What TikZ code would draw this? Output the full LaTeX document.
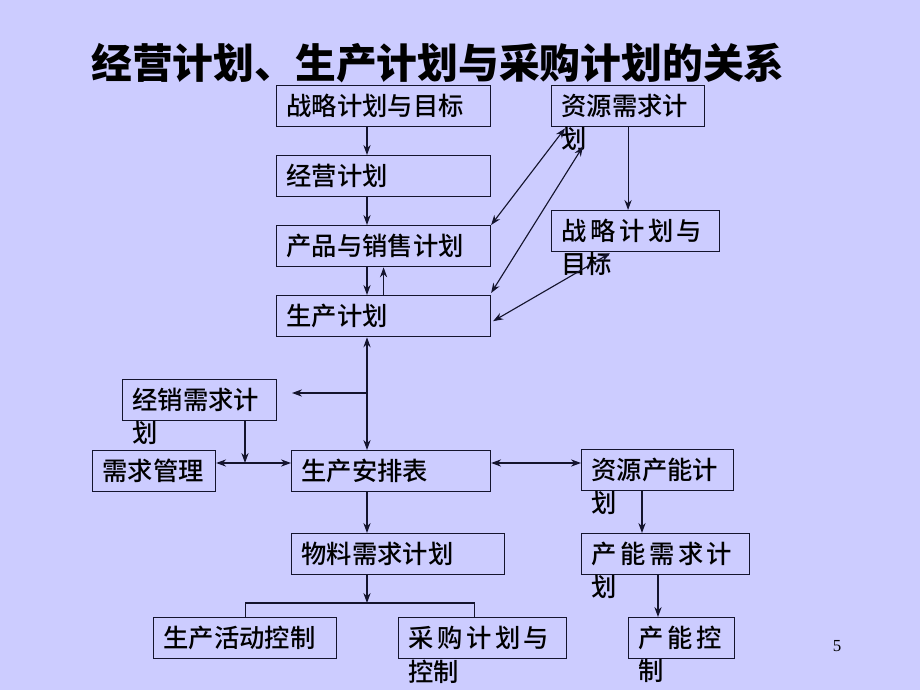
\documentclass[tikz,border=0pt]{standalone}
\usepackage{fontspec}
\newfontfamily\cjk{Noto Sans CJK SC Medium}
\newfontfamily\cjktitle{Noto Sans CJK SC Black}
\newfontfamily\serif{Liberation Serif}
\newcommand\gap{\hspace{2.5pt}}
\usetikzlibrary{positioning,calc,arrows.meta}
\definecolor{slidebg}{RGB}{204,204,255}
\definecolor{ink}{RGB}{20,20,45}

\begin{document}
\begin{tikzpicture}[
    x=0.025cm, y=-0.025cm,
    >={Stealth[length=2.5mm,width=1.8mm]},
    box/.style={draw=ink, line width=0.8pt, anchor=north west, align=left,
      inner xsep=0.25cm, inner ysep=0pt, minimum height=1.03cm,
      text width=#1*0.025cm-0.5cm,
      font=\cjk\fontsize{18pt}{22pt}\selectfont},
    wrap/.style={label={[anchor=north west, inner sep=0pt, xshift=0.25cm,
      font=\cjk\fontsize{18pt}{22pt}\selectfont]south west:#1}},
    link/.style={draw=ink, line width=0.8pt}
    ]

    \fill[slidebg] (0,0) rectangle (920,690);

    \node (title) at (438,63) {\cjktitle\fontsize{29pt}{32pt}\selectfont 经营计划、生产计划与采购计划的关系};

    % left column
    \node (plan) [box=214] at (276,85) {战略计划与目标};
    \node (biz) [box=214] at (276,155) {经营计划};
    \node (sales) [box=214] at (276,225) {产品与销售计划};
    \node (prod) [box=214] at (276,295) {生产计划};

    % resources
    \node (res) [box=153,wrap=划] at (551,85) {资源需求计};
    \node (strat) [box=168,wrap=目标] at (551,210) {战\gap 略\gap 计\gap 划\gap 与};

    % middle row
    \node (dist) [box=154,wrap=划] at (122,379) {经销需求计};
    \node (dem) [box=123] at (92,450) {需求管理};
    \node (sched) [box=199] at (291,450) {生产安排表};
    \node (rcap) [box=152,wrap=划] at (581,449) {资源产能计};

    % bottom
    \node (mrp) [box=213] at (291,533) {物料需求计划};
    \node (cap) [box=168,wrap=划] at (581,533) {产\gap 能\gap 需\gap 求\gap 计};
    \node (pac) [box=183] at (153,617) {生产活动控制};
    \node (pur) [box=168,wrap=控制] at (398,617) {采\gap 购\gap 计\gap 划\gap 与};
    \node (capctl) [box=106,wrap=制] at (628,617) {产\gap 能\gap 控};

    \node (page) at (837,646) {\serif\fontsize{12pt}{14pt}\selectfont 5};

    \coordinate (spine) at (367,0);
    \coordinate (tip) at (292,393);
    \coordinate (mid) at (245,463);
    \coordinate (split) at (367,603);

    \draw[link,->] (plan.south -| spine) -- (biz.north -| spine);
    \draw[link,->] (biz.south -| spine) -- (sales.north -| spine);
    \draw[link,->] (sales.south -| spine) -- (prod.north -| spine);
    \draw[link,->] (prod.north) -- (sales.south);
    \draw[link,<->] (prod.south -| spine) -- (sched.north -| spine);
    \draw[link,->] (tip -| spine) -- (tip);
    \draw[link,->] (dist.south -| mid) -- (mid);
    \draw[link,<->] (dem.east |- mid) -- (sched.west |- mid);
    \draw[link,<->] (sched.east |- mid) -- (rcap.west |- mid);

    \draw[link,->] (res.south) -- (res.south |- strat.north);
    \draw[link,<->] ($(res.south west)+(14,1)$) -- (sales.north east);
    \draw[link,<->] ($(res.south west)+(32,19)$) -- ($(prod.north east)+(0,-2)$);
    \draw[link,<->] ($(strat.south west)+(59,1)$) -- ($(prod.east)+(2,5)$);

    \draw[link,->] (sched.south -| spine) -- (mrp.north -| spine);
    \draw[link,->] (mrp.south -| spine) -- (split);
    \draw[link] (pac.north) |- (split) -| ($(pur.north)+(-8,0)$);

    \draw[link,->] ($(rcap.south west)+(61,0)$) coordinate (rc) -- (rc |- cap.north);
    \draw[link,->] ($(cap.south west)+(77,0)$) coordinate (cc) -- (cc |- capctl.north);

  \end{tikzpicture}
\end{document}
